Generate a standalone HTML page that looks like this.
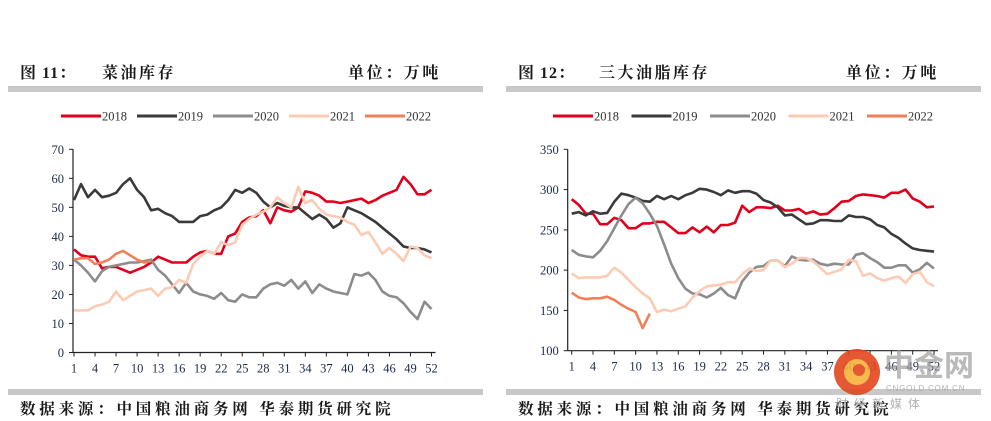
<!DOCTYPE html>
<html><head><meta charset="utf-8">
<style>
body{margin:0;background:#fff;width:991px;height:421px;overflow:hidden;}
svg{display:block;}
.cjk{font-family:"Liberation Serif","Noto Serif CJK SC",serif;font-weight:bold;fill:#1a1a1a;}
.tick{font-family:"Liberation Serif",serif;font-size:12.5px;fill:#1c2a4a;}
.leg{font-family:"Liberation Serif",serif;font-size:12.5px;fill:#333;}
</style></head>
<body>
<svg id="svg" width="991" height="421" viewBox="0 0 991 421" xmlns="http://www.w3.org/2000/svg">
  <text class="cjk" x="20" y="78" font-size="16" letter-spacing="1">图 11：</text>
  <text class="cjk" x="102" y="78" font-size="16" letter-spacing="2.5">菜油库存</text>
  <text class="cjk" x="348" y="78" font-size="16" letter-spacing="2.6">单位：万吨</text>
  <rect x="8" y="86" width="475" height="6" fill="#c8c8c8"/>
  <text class="cjk" x="518" y="78" font-size="16" letter-spacing="1">图 12：</text>
  <text class="cjk" x="599" y="78" font-size="16" letter-spacing="2.5">三大油脂库存</text>
  <text class="cjk" x="846" y="78" font-size="16" letter-spacing="2.6">单位：万吨</text>
  <rect x="506" y="86" width="475" height="6" fill="#c8c8c8"/>
  <rect x="8" y="389" width="475" height="6" fill="#c8c8c8"/>
  <rect x="506" y="389" width="475" height="6" fill="#c8c8c8"/>
  <text class="cjk" x="20" y="414" font-size="15.5" letter-spacing="3.8">数据来源：中国粮油商务网 华泰期货研究院</text>
  <text class="cjk" x="518" y="414" font-size="15.5" letter-spacing="3.8">数据来源：中国粮油商务网 华泰期货研究院</text>
  <g id="left"></g>
  <g id="right"></g>
  <g opacity="0.9">
    <circle cx="857" cy="372" r="23" fill="#e4471f"/>
    <circle cx="857" cy="372" r="13" fill="#f6b33c"/>
    <circle cx="859" cy="370" r="6" fill="#e4471f"/>
    <text x="884" y="376" font-family="'Noto Sans CJK SC',sans-serif" font-size="30" font-weight="bold" fill="#9a9a9a" opacity="0.75">中金网</text>
    <text x="886" y="391" font-family="'Liberation Sans',sans-serif" font-size="8" fill="#aaa" letter-spacing="0.8">CNGOLD.COM.CN</text>
    <text x="836" y="408" font-family="'Noto Sans CJK SC',sans-serif" font-size="12" fill="#aaa" letter-spacing="6">财经新媒体</text>
  </g>
</svg>
<script>
const weeks = Array.from({length:52},(_,i)=>i+1);
const xTickLabels = [1,4,7,10,13,16,19,22,25,28,31,34,37,40,43,46,49,52];
const seriesNames = ["2018","2019","2020","2021","2022"];
const seriesColors = ["#e0001b","#3a3a3a","#8c8c8c","#fbcbb4","#f0805a"];

const leftTicks = [0,10,20,30,40,50,60,70];
const left2018 = [35.5,33.5,33,33,29,29.5,29.5,28.5,27.5,28.5,29.5,31,33,32,31,31,31,33,34.5,35,34,34,40,41,45,46.5,47,49,44.5,50,49,48.5,50,55.5,55,54,52,52,51.5,52,52.5,53,51.5,52.5,54,55,56,60.5,58,54.5,54.5,56];
const left2019 = [52.5,58,53.5,56,53.5,54,55,58,60,56,53.5,49,49.5,48,47,45,45,45,47,47.5,49,50,52.5,56,55,56.5,55,52,50,51.5,50.5,50,50,48,46,47.5,46,43,44.5,50,49,48,46.5,45,43,41,39,36.5,36,36,35.5,34.5];
const left2020 = [32,30,27.5,24.5,28,29.5,30,30.5,31,31,31.5,32,28.5,26.5,23.5,20.5,24,21,20,19.5,18.5,20.5,18,17.5,20,19,19,22,23.5,24,23,25,22,24.5,20.5,23.5,22,21,20.5,20,27,26.5,27.5,25,21,19.5,19,17,14,11.5,17.5,15];
const left2021 = [14.5,14.5,14.5,16,16.5,17.5,21,18,19.5,21,21.5,22,19.5,22,22.5,25,24,30.5,33,35,34,38,37,38,44,46,47.5,48.5,50,53.5,51.5,50,57,51.5,52.5,49.5,47.5,47,46.5,45,44,40.5,41.5,38,34,36,34,31.5,36.5,36,33.5,32.5];
const left2022 = [32,32.5,32.5,30.5,31,32,34,35,33.5,32,31,31.5];

const rightTicks = [100,150,200,250,300,350];
const right2018 = [288,281,270,270,257,257,265,262,252,252,258,258,260,260,253,246,246,253,247,254,247,256,256,259,280,272,278,278,277,280,274,274,276,270,273,269,270,277,285,286,292,294,293,292,290,296,296,300,289,285,278,279];
const right2019 = [270,272,268,273,270,271,285,295,293,290,286,285,292,288,292,288,293,296,301,300,297,293,299,296,298,298,295,287,284,278,268,269,263,257,258,262,262,261,261,268,266,266,263,256,253,245,240,233,227,225,224,223];
const right2020 = [225,219,217,216,224,236,252,268,282,290,283,270,255,232,208,190,177,171,170,166,171,178,169,165,186,197,204,205,212,212,205,217,213,212,213,208,206,208,207,207,219,221,215,210,203,203,206,206,197,201,209,202];
const right2021 = [196,190,191,191,191,193,203,197,188,179,171,165,148,151,149,152,155,166,174,180,181,182,185,185,195,202,199,200,212,212,204,208,215,215,211,203,195,198,201,213,211,193,196,190,187,190,192,184,195,198,185,180];
const right2022 = [172,166,164,165,165,167,163,157,152,148,128,146];

const NS="http://www.w3.org/2000/svg";
function mk(tag,attrs,parent){const e=document.createElementNS(NS,tag);for(const k in attrs)e.setAttribute(k,attrs[k]);parent.appendChild(e);return e;}

function drawChart(g,cfg){
  const {x0,x1,axX,yTop,yBot,vmin,vmax,ticks,series,legX,legStep} = cfg;
  const xS = w => x0 + (w-1)*(x1-x0)/51;
  const yS = v => yBot - (v-vmin)*(yBot-yTop)/(vmax-vmin);
  const ya = mk('line',{x1:axX,y1:yTop,x2:axX,y2:yBot,stroke:'#222','stroke-width':1.2},g);
  
  
  const xa = mk('line',{x1:axX,y1:yBot,x2:x1+4,y2:yBot,stroke:'#222','stroke-width':1.2},g);
  
  
  ticks.forEach(v=>{
    const y=yS(v);
    mk('line',{x1:axX-4,y1:y,x2:axX,y2:y,stroke:'#222','stroke-width':1},g);
    const t=mk('text',{x:axX-9,y:y+4.5,'text-anchor':'end',class:'tick'},g);
    t.textContent=v;
    
    
  });
  weeks.forEach(w=>{
    mk('line',{x1:xS(w),y1:yBot,x2:xS(w),y2:yBot+(xTickLabels.includes(w)?4:0),stroke:'#222','stroke-width':1},g);
  });
  xTickLabels.forEach(w=>{
    const t=mk('text',{x:xS(w),y:yBot+20,'text-anchor':'middle',class:'tick'},g);
    t.textContent=w;
    
    
  });
  series.forEach((arr,i)=>{
    const d=arr.map((v,j)=>(j?'L':'M')+xS(weeks[j]).toFixed(1)+','+yS(v).toFixed(1)).join(' ');
    const p=mk('path',{d:d,fill:'none',stroke:seriesColors[i],'stroke-width':2.6,'stroke-linejoin':'round'},g);
    
    
  });
  seriesNames.forEach((n,i)=>{
    const lx=legX+i*legStep;
    const lg=mk('g',{},g);
    
    
    mk('line',{x1:lx,y1:116,x2:lx+40,y2:116,stroke:seriesColors[i],'stroke-width':3},lg);
    const t=mk('text',{x:lx+41,y:120.5,class:'leg'},lg);
    t.textContent=n;
  });
}
drawChart(document.getElementById('left'),{x0:74,x1:431.5,axX:73,yTop:149.3,yBot:352.5,vmin:0,vmax:70,ticks:leftTicks,
  series:[left2018,left2019,left2020,left2021,left2022],legX:61,legStep:76});
drawChart(document.getElementById('right'),{x0:571.7,x1:934,axX:567.7,yTop:149.3,yBot:350.7,vmin:100,vmax:350,ticks:rightTicks,
  series:[right2018,right2019,right2020,right2021,right2022],legX:553,legStep:78.5});
</script>
</body></html>
